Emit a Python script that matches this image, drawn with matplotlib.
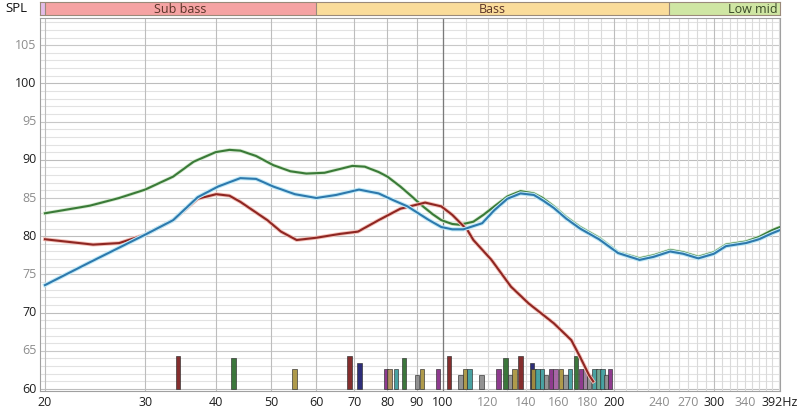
import matplotlib
matplotlib.use("Agg")
import matplotlib.pyplot as plt
import matplotlib.patheffects as pe
import numpy as np

green_f = [20, 24, 27, 30, 33.6, 36.5, 39.9, 42.2, 44.1, 47, 50.4, 54, 57.6, 62, 66, 69.4, 73, 77.2, 80,
           84.3, 88, 91.7, 96, 99.5, 104, 107.2, 113.3, 118, 123.3, 130, 137.1, 144.7, 150, 156.9, 165,
           174.5, 188.4, 203.5, 222, 235, 251.3, 265, 281.6, 300, 315, 341.5, 360, 380, 392]
green_db = [83.0, 84.0, 85.0, 86.1, 87.8, 89.75, 91.0, 91.3, 91.2, 90.5, 89.3, 88.5, 88.2, 88.3, 88.8, 89.2, 89.1, 88.4, 87.8,
            86.5, 85.3, 84.1, 82.9, 82.1, 81.6, 81.5, 81.9, 82.8, 83.9, 85.2, 85.9, 85.6, 85.0, 83.9, 82.5,
            81.2, 79.8, 77.9, 77.1, 77.5, 78.2, 77.9, 77.3, 77.9, 78.9, 79.3, 79.9, 80.8, 81.2]

blue_f = [20, 24, 27, 30, 33.6, 37.1, 40.3, 44.1, 47, 50.4, 55, 60, 65, 71.3, 77.2, 82, 86.8, 94.7, 99.5,
          104, 108.8, 117.4, 123.3, 130, 137.1, 144.7, 150, 156.9, 165, 174.5, 188.4, 203.5, 222, 235,
          251.3, 265, 281.6, 300, 315, 341.5, 360, 380, 392]
blue_db = [73.6, 76.6, 78.5, 80.2, 82.1, 85.1, 86.5, 87.6, 87.5, 86.5, 85.5, 85.0, 85.4, 86.1, 85.6, 84.7, 83.9, 82.1, 81.2,
           80.9, 80.9, 81.7, 83.4, 84.9, 85.6, 85.4, 84.7, 83.7, 82.3, 81.0, 79.6, 77.8, 76.9, 77.3,
           78.0, 77.7, 77.1, 77.7, 78.7, 79.1, 79.6, 80.4, 80.8]

red_f = [20, 24.3, 27, 30, 33.6, 37.1, 40, 42.2, 44.1, 49.2, 52, 55.4, 60, 66, 71, 77.2, 84.3, 93.2, 99.5,
         104, 110.6, 113.3, 121.9, 131.9, 141.7, 156.9, 168.4, 174.5, 181, 184]
red_db = [79.6, 78.9, 79.1, 80.2, 82.1, 84.9, 85.5, 85.3, 84.5, 82.1, 80.6, 79.5, 79.8, 80.3, 80.6, 82.1, 83.6, 84.4, 83.9,
          82.8, 80.8, 79.5, 76.9, 73.4, 71.2, 68.6, 66.4, 64.2, 61.8, 61.0]

# Modal bars at the bottom (freq Hz, top dB, colour)
bar_f = [34.3, 42.9, 54.9, 68.6, 71.4, 79.5, 80.6, 82.8, 85.6, 90.2, 92.1, 98.1, 102.6, 107.6, 109.6,
         111.5, 117.0, 125.3, 128.9, 131.3, 133.8, 137.0, 143.6, 144.6, 147.0, 149.5, 152.0, 155.0,
         158.0, 161.6, 164.5, 167.5, 171.6, 175.0, 178.0, 181.0, 185.0, 188.0, 191.0, 194.0, 197.0]
bar_db = [64.3, 64.0, 62.6, 64.3, 63.4, 62.6, 62.6, 62.6, 64.0, 61.8, 62.6, 62.6, 64.3, 61.8, 62.6,
          62.6, 61.8, 62.6, 64.0, 61.8, 62.6, 64.3, 63.4, 62.6, 62.6, 62.6, 61.8, 62.6,
          62.6, 62.6, 61.8, 62.6, 64.3, 62.6, 62.6, 61.8, 62.6, 62.6, 62.6, 61.8, 62.6]
bar_c = ['#7b1c1c', '#2b6b2b', '#a8923c', '#7b1c1c', '#1c1c6e', '#862a86', '#a88a55', '#3a9a9a', '#2b6b2b',
         '#8a8a8a', '#a8923c', '#862a86', '#7b1c1c', '#8a8a8a', '#a8923c',
         '#3a9a9a', '#8a8a8a', '#862a86', '#2b6b2b', '#8a8a8a', '#a8923c', '#7b1c1c', '#1c1c6e', '#a8923c',
         '#3a9a9a', '#3a9a9a', '#8a8a8a', '#862a86', '#a05aa0', '#a8923c', '#8a8a8a', '#3a9a9a',
         '#2b6b2b', '#862a86', '#9a7a9a', '#8a8a8a', '#3a9a9a', '#6aa08a', '#3a9a9a', '#8a8a8a', '#862a86']

# x labels: (freq, text, dark?)
xt_f = [20, 30, 40, 50, 60, 70, 80, 90, 100, 120, 140, 160, 180, 200, 240, 270, 300, 340, 392]
xt_lab = ['20', '30', '40', '50', '60', '70', '80', '90', '100', '120', '140', '160', '180', '200',
          '240', '270', '300', '340', '392Hz']
xt_dark = [1, 1, 1, 1, 1, 1, 1, 1, 1, 0, 0, 0, 0, 1, 0, 0, 1, 0, 1]

yt = [60, 65, 70, 75, 80, 85, 90, 95, 100, 105]

# frequency bands on top
band_lo = [19.6, 20, 60, 250]
band_hi = [20, 60, 250, 392]
band_lab = ['', 'Sub bass', 'Bass', 'Low mid']
band_col = ['#e4bce8', '#f5a3a3', '#fadc9a', '#cfe6a3']

plt.rcParams['font.family'] = ['Open Sans', 'DejaVu Sans']

fig = plt.figure(figsize=(8, 4.15), dpi=100)
ax = fig.add_axes([40 / 800, 1 - 391 / 415, 740 / 800, 373 / 415])
ax.set_xscale('log')
ax.set_xlim(19.6, 392)
ax.set_ylim(59.74, 108.56)
ax.set_xticks([])
ax.set_yticks([])
ax.minorticks_off()
for s in ax.spines.values():
    s.set_color('#a0a0a0')
    s.set_linewidth(0.8)

# grid
for v in range(60, 109):
    if v % 10 == 0:
        c = '#bdbdbd'
    elif v % 5 == 0:
        c = '#c8c8c8'
    else:
        c = '#e2e2e2'
    ax.axhline(v, color=c, lw=0.8, zorder=0)
for f in range(20, 400, 10):
    if f <= 100 or f in (200, 300):
        c = '#bdbdbd'
    else:
        c = '#dadada'
    ax.axvline(f, color=c, lw=0.8, zorder=0)
ax.axvline(100, color='#7a7a7a', lw=0.9, zorder=1)

# bars
d = 0.00396
for f, h, c in zip(bar_f, bar_db, bar_c):
    left = f * 10 ** (-d)
    ax.bar(left, h - 60, width=f * (10 ** d - 10 ** (-d)), bottom=60, align='edge',
           color=c, edgecolor='#303030', linewidth=0.5, alpha=0.92, zorder=2)

# curves
ax.plot(green_f, green_db, color='#3a7a38', lw=1.5, zorder=4, solid_joinstyle='round',
        path_effects=[pe.Stroke(linewidth=2.6, foreground='#d2e9cc'), pe.Normal()])
ax.plot(red_f, red_db, color='#8e2622', lw=1.5, zorder=4, solid_joinstyle='round',
        path_effects=[pe.Stroke(linewidth=2.8, foreground='#f4c0b8'), pe.Normal()])
ax.plot(blue_f, blue_db, color='#2d79ad', lw=1.5, zorder=5, solid_joinstyle='round',
        path_effects=[pe.Stroke(linewidth=3.0, foreground='#c2eaf7'), pe.Normal()])

# tick labels
for f, t, k in zip(xt_f, xt_lab, xt_dark):
    ax.text(f, -0.032, t, transform=ax.get_xaxis_transform(), ha='center', va='center',
            fontsize=9, color='#1e1e1e' if k else '#8c8c8c')
for v in yt:
    ax.text(-0.005, v, str(v), transform=ax.get_yaxis_transform(), ha='right', va='center',
            fontsize=9, color='#1e1e1e' if v % 10 == 0 else '#8c8c8c')

# band bar on top
bx = fig.add_axes([40 / 800, 1 - 15 / 415, 740 / 800, 13 / 415])
bx.set_xscale('log')
bx.set_xlim(19.6, 392)
bx.set_ylim(0, 1)
bx.set_xticks([])
bx.set_yticks([])
bx.minorticks_off()
for s in bx.spines.values():
    s.set_color('#9a8a7a')
    s.set_linewidth(0.8)
for lo, hi, lab, c in zip(band_lo, band_hi, band_lab, band_col):
    bx.axvspan(lo, hi, color=c, lw=0)
    if lo > 19.6:
        bx.axvline(lo, color='#9a8a7a', lw=0.8)
bx.text(np.sqrt(20 * 60), 0.45, band_lab[1], ha='center', va='center', fontsize=9, color='#5a3428')
bx.text(np.sqrt(60 * 250), 0.45, band_lab[2], ha='center', va='center', fontsize=9, color='#5a3428')
bx.text(388, 0.45, band_lab[3], ha='right', va='center', fontsize=9, color='#3a4a28')

fig.text(5 / 800, 1 - 9 / 415, 'SPL', ha='left', va='center', fontsize=9.5, color='#111111')

fig.savefig('out.png', dpi=100)
